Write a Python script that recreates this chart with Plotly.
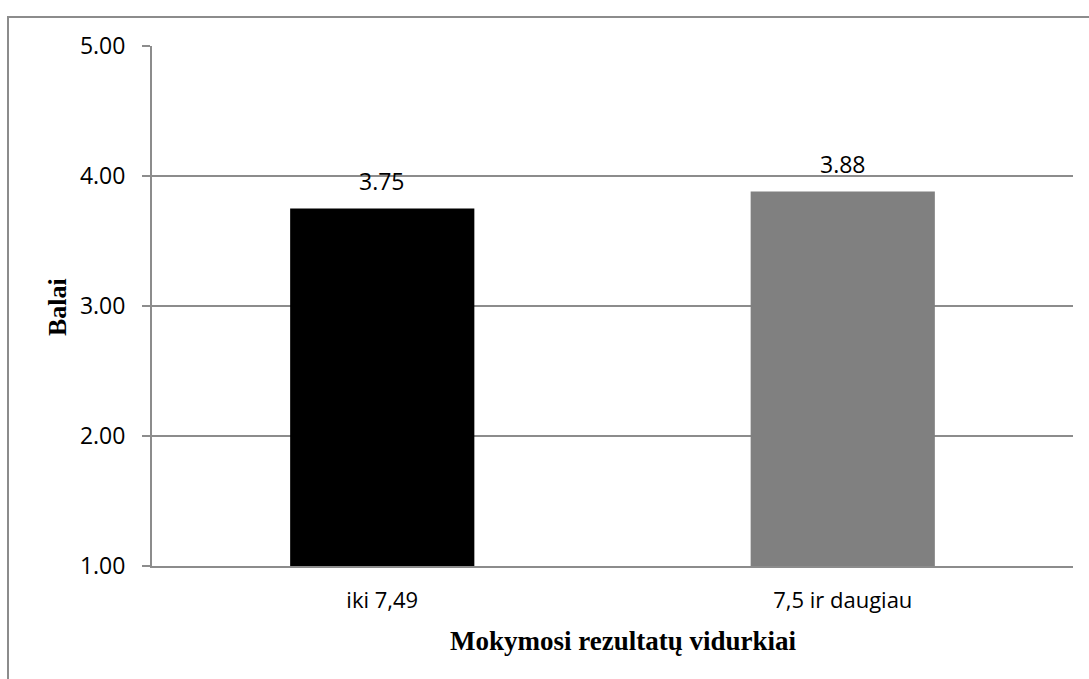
import plotly.graph_objects as go

# Average scores by learning-results group
categories = ["iki 7,49", "7,5 ir daugiau"]
scores = [3.75, 3.88]
bar_colors = ["#000000", "#808080"]
y_ticks = [1.0, 2.0, 3.0, 4.0, 5.0]
y_floor = 1.0

fig = go.Figure()
# bars rise from the axis floor (1.00)
fig.add_trace(go.Bar(
    x=categories,
    y=[v - y_floor for v in scores],
    base=y_floor,
    marker=dict(color=bar_colors, line=dict(width=0)),
    showlegend=False,
    hoverinfo="skip",
))

label_font = dict(family="Open Sans", size=23, color="#000000")
for cat, v in zip(categories, scores):
    fig.add_annotation(
        x=cat, y=v, text=f"{v:.2f}", showarrow=False,
        yshift=28, font=label_font,
    )

title_font = dict(family="Liberation Serif", size=27, color="#000000")
fig.add_annotation(
    text="<b>Mokymosi rezultatų vidurkiai</b>", xref="paper", yref="paper",
    x=(623 - 152) / 921, y=(566 - 641) / 520, xanchor="center", yanchor="middle",
    showarrow=False, font=title_font,
)
fig.add_annotation(
    text="<b>Balai</b>", xref="paper", yref="paper", textangle=-90,
    x=(57 - 152) / 921, y=(566 - 307) / 520, xanchor="center", yanchor="middle",
    showarrow=False, font=dict(family="Liberation Serif", size=26, color="#000000"),
)

axis_font = dict(family="Open Sans", size=22, color="#000000")
grid_color = "#8c8c8c"

fig.update_layout(
    width=1089, height=679,
    margin=dict(l=152, r=16, t=46, b=113),
    paper_bgcolor="white", plot_bgcolor="white",
    bargap=0.6,
    xaxis=dict(
        tickfont=axis_font,
        showline=True, linecolor=grid_color, linewidth=2,
        ticks="", showgrid=False, ticklabelstandoff=14,
    ),
    yaxis=dict(
        range=[1, 5], tickvals=y_ticks, tickformat=".2f",
        tickfont=dict(family="Open Sans", size=23, color="#000000"),
        showline=True, linecolor=grid_color, linewidth=2,
        ticks="outside", ticklen=8, tickcolor=grid_color, tickwidth=2,
        ticklabelstandoff=12,
        showgrid=True, gridcolor=grid_color, gridwidth=2,
        zeroline=False,
    ),
    shapes=[dict(
        type="rect", xref="paper", yref="paper",
        x0=(8 - 152) / 921, x1=(1100 - 152) / 921,
        y0=(566 - 700) / 520, y1=(566 - 17) / 520,
        line=dict(color=grid_color, width=2), fillcolor="rgba(0,0,0,0)",
        layer="below",
    )],
)

fig.write_html("out.html")
